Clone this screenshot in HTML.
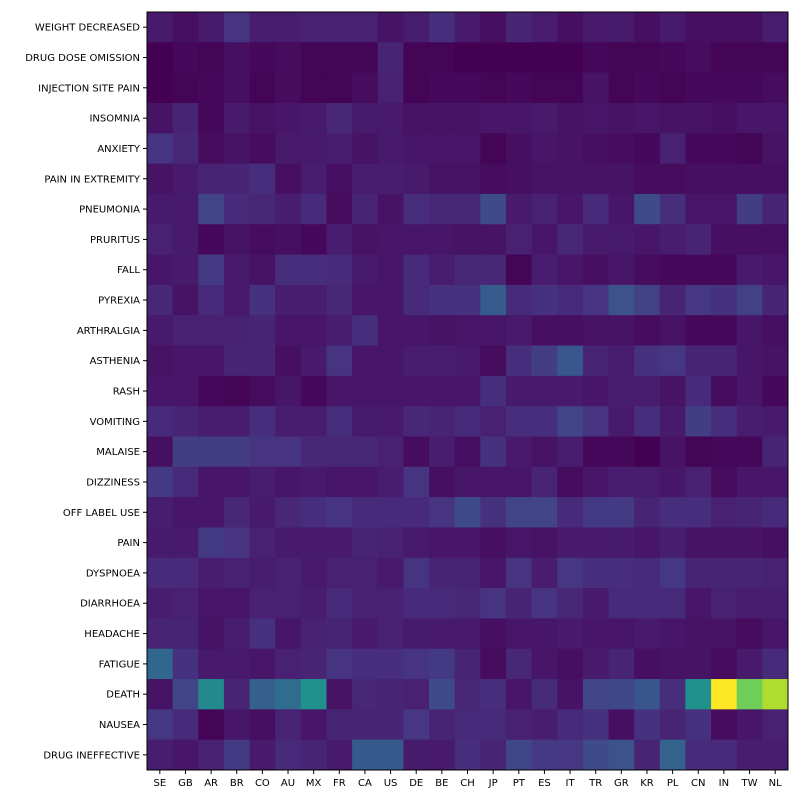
<!DOCTYPE html>
<html><head><meta charset="utf-8"><style>
body{margin:0;background:#fff;}
svg text{font-family:"DejaVu Sans","Liberation Sans",sans-serif;font-size:10px;fill:#000;}
</style></head><body>
<svg id="chart" width="800" height="800" xmlns="http://www.w3.org/2000/svg">
<rect width="800" height="800" fill="#fff"/>
<g id="cells"></g>
<g id="yticks"></g>
<g id="xticks"></g>
<rect x="147" y="12" width="641" height="758" fill="none" stroke="#000" stroke-width="1"/>
</svg>
<script>
const rows = ["WEIGHT DECREASED","DRUG DOSE OMISSION","INJECTION SITE PAIN","INSOMNIA","ANXIETY","PAIN IN EXTREMITY","PNEUMONIA","PRURITUS","FALL","PYREXIA","ARTHRALGIA","ASTHENIA","RASH","VOMITING","MALAISE","DIZZINESS","OFF LABEL USE","PAIN","DYSPNOEA","DIARRHOEA","HEADACHE","FATIGUE","DEATH","NAUSEA","DRUG INEFFECTIVE"];
const cols = ["SE","GB","AR","BR","CO","AU","MX","FR","CA","US","DE","BE","CH","JP","PT","ES","IT","TR","GR","KR","PL","CN","IN","TW","NL"];
const values = [
[.07,.04,.07,.15,.08,.08,.09,.09,.09,.05,.08,.13,.07,.04,.10,.08,.04,.07,.07,.04,.07,.04,.04,.04,.08],
[0,.02,.01,.04,.02,.03,.01,.01,.01,.10,.01,.01,0,0,0,0,0,.02,.01,.01,.02,.03,.01,.01,.01],
[0,.01,.02,.04,.01,.03,.01,.01,.03,.09,.01,.02,.02,.01,.02,.01,.01,.05,.01,.02,.01,.02,.02,.02,.03],
[.05,.10,.02,.07,.05,.06,.07,.11,.07,.07,.05,.05,.05,.06,.06,.07,.05,.06,.05,.06,.05,.05,.04,.06,.06],
[.15,.11,.03,.05,.03,.07,.07,.08,.05,.07,.06,.06,.06,.01,.04,.06,.05,.04,.03,.02,.09,.02,.02,.01,.05],
[.05,.07,.10,.10,.13,.04,.08,.04,.08,.08,.07,.05,.05,.03,.04,.05,.05,.05,.05,.03,.03,.04,.04,.04,.04],
[.07,.07,.20,.12,.11,.08,.12,.03,.10,.05,.13,.11,.11,.22,.07,.09,.06,.12,.06,.23,.13,.06,.06,.18,.10],
[.09,.07,.02,.05,.03,.04,.02,.08,.05,.06,.06,.06,.05,.05,.09,.06,.11,.07,.07,.06,.08,.10,.04,.04,.04],
[.06,.07,.17,.07,.05,.13,.13,.12,.07,.06,.12,.08,.11,.11,.01,.08,.06,.04,.06,.03,.02,.02,.02,.07,.06],
[.11,.05,.12,.07,.14,.08,.08,.11,.06,.06,.12,.14,.14,.29,.12,.14,.12,.15,.25,.19,.10,.16,.14,.19,.10],
[.07,.09,.09,.09,.10,.06,.06,.08,.13,.06,.06,.05,.06,.06,.07,.04,.04,.05,.05,.03,.05,.02,.02,.06,.04],
[.05,.06,.06,.10,.10,.04,.07,.15,.06,.06,.08,.08,.07,.03,.13,.18,.27,.10,.08,.14,.16,.10,.10,.06,.05],
[.06,.06,.02,.01,.03,.06,.02,.06,.06,.06,.06,.06,.06,.13,.07,.07,.07,.06,.08,.08,.05,.12,.03,.06,.02],
[.12,.10,.08,.08,.13,.08,.08,.13,.07,.07,.11,.10,.12,.09,.13,.13,.20,.15,.07,.13,.07,.18,.13,.08,.07],
[.04,.18,.18,.18,.15,.15,.11,.11,.11,.09,.03,.08,.04,.14,.07,.05,.08,.02,.02,0,.05,.01,.02,.02,.10],
[.17,.12,.06,.06,.08,.06,.07,.06,.06,.08,.15,.04,.06,.06,.06,.10,.03,.06,.08,.08,.06,.09,.03,.06,.06],
[.08,.06,.06,.11,.07,.11,.13,.15,.12,.12,.12,.15,.22,.14,.20,.20,.12,.17,.17,.10,.13,.13,.09,.10,.12],
[.07,.07,.17,.15,.09,.07,.07,.07,.10,.09,.07,.06,.06,.04,.06,.05,.07,.07,.07,.06,.08,.05,.05,.05,.04],
[.12,.12,.08,.09,.08,.09,.07,.09,.09,.07,.15,.10,.10,.06,.15,.08,.16,.13,.13,.12,.16,.10,.10,.10,.09],
[.08,.09,.06,.06,.09,.09,.08,.12,.09,.09,.12,.12,.11,.15,.10,.15,.11,.07,.12,.12,.12,.06,.09,.08,.08],
[.10,.10,.05,.08,.14,.06,.09,.10,.07,.09,.07,.07,.07,.04,.06,.06,.07,.06,.06,.07,.06,.05,.05,.03,.06],
[.33,.14,.07,.07,.06,.09,.10,.15,.13,.13,.15,.17,.10,.03,.11,.06,.04,.07,.10,.04,.05,.05,.03,.07,.12],
[.05,.20,.47,.10,.30,.35,.50,.05,.11,.10,.09,.22,.11,.13,.06,.12,.05,.20,.21,.26,.13,.50,1.0,.78,.88],
[.16,.12,.01,.06,.04,.10,.06,.10,.10,.10,.16,.10,.12,.12,.09,.08,.12,.14,.04,.14,.10,.14,.03,.06,.09],
[.08,.06,.09,.17,.07,.12,.10,.07,.28,.28,.07,.07,.13,.10,.21,.17,.16,.22,.25,.10,.31,.12,.12,.08,.08]
];
const VIR=["#440154","#471365","#482475","#463480","#414487","#3b528b","#355f8d","#2f6c8e","#2a788e","#25848e","#21918c","#1e9c89","#22a884","#2fb47c","#44bf70","#5ec962","#7ad151","#9bd93c","#bddf26","#dfe318","#fde725"];
function hex(h){return [1,3,5].map(i=>parseInt(h.substr(i,2),16));}
function cmap(v){v=Math.max(0,Math.min(1,v));const p=v*(VIR.length-1);const i=Math.min(Math.floor(p),VIR.length-2);const t=p-i;const a=hex(VIR[i]),b=hex(VIR[i+1]);return "rgb("+a.map((c,k)=>Math.round(c+(b[k]-c)*t)).join(",")+")";}
const X0=147,Y0=12,W=641,H=758;
const cw=W/cols.length, rh=H/rows.length;
function xPos(i){return X0+i*cw;}
function yPos(j){return Y0+j*rh;}
const NS="http://www.w3.org/2000/svg";
const cg=document.getElementById('cells'), yg=document.getElementById('yticks'), xg=document.getElementById('xticks');
values.forEach((row,j)=>row.forEach((v,i)=>{
  const r=document.createElementNS(NS,'rect');
  r.setAttribute('x',xPos(i));r.setAttribute('y',yPos(j));
  r.setAttribute('width',cw+0.5);r.setAttribute('height',rh+0.5);
  r.setAttribute('fill',cmap(v));
  
  
  cg.appendChild(r);
}));
rows.forEach((lab,j)=>{
  const y=yPos(j)+rh/2;
  const l=document.createElementNS(NS,'line');
  l.setAttribute('x1',X0-4);l.setAttribute('x2',X0);l.setAttribute('y1',y);l.setAttribute('y2',y);l.setAttribute('stroke','#000');
  yg.appendChild(l);
  const t=document.createElementNS(NS,'text');
  t.setAttribute('x',X0-7);t.setAttribute('y',y+3.5);t.setAttribute('text-anchor','end');
  t.textContent=lab;
  
  
  yg.appendChild(t);
});
cols.forEach((lab,i)=>{
  const x=xPos(i)+cw/2;
  const l=document.createElementNS(NS,'line');
  l.setAttribute('x1',x);l.setAttribute('x2',x);l.setAttribute('y1',Y0+H);l.setAttribute('y2',Y0+H+4);l.setAttribute('stroke','#000');
  xg.appendChild(l);
  const t=document.createElementNS(NS,'text');
  t.setAttribute('x',x);t.setAttribute('y',Y0+H+16);t.setAttribute('text-anchor','middle');
  t.textContent=lab;
  
  
  xg.appendChild(t);
});
</script>
</body></html>
